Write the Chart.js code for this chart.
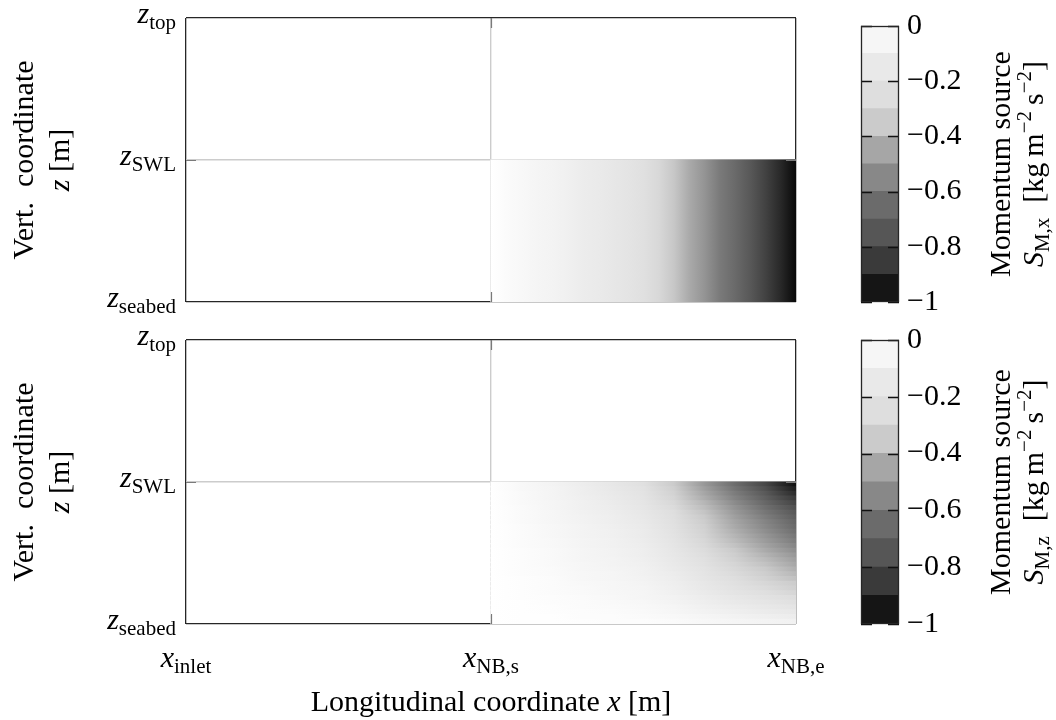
<!DOCTYPE html>
<html><head><meta charset="utf-8">
<script src="https://cdn.jsdelivr.net/npm/chart.js@4/dist/chart.umd.min.js"></script>
<style>
html,body{margin:0;padding:0;background:#fff;}
#wrap{position:relative;width:1056px;height:720px;overflow:hidden;background:#fff;}
#wrap canvas{position:absolute;left:0;top:0;}
</style></head><body>
<div id="wrap">
<canvas id="hx" width="1056" height="720" style="width:1056px;height:720px"></canvas>
<canvas id="hz" width="1056" height="720" style="width:1056px;height:720px"></canvas>
<canvas id="cbx" width="1056" height="720" style="width:1056px;height:720px"></canvas>
<canvas id="cbz" width="1056" height="720" style="width:1056px;height:720px"></canvas>
</div>
<script>
// ---------------- data ----------------
// axis tick positions (data units) and their labels [symbol, subscript]
const xTickValues = [0, 1, 2];
const xTickLabels = [['x', 'inlet'], ['x', 'NB,s'], ['x', 'NB,e']];
const zTickValues = [0, 1, 2];
const zTickLabels = [['z', 'seabed'], ['z', 'SWL'], ['z', 'top']];
const zSWL = 1;

// colorbar
const colorbarTicks = [0, -0.2, -0.4, -0.6, -0.8, -1];
const colorbarEdges = [-1, -0.9, -0.8, -0.7, -0.6, -0.5, -0.4, -0.3, -0.2, -0.1, 0];
const colorbarBandColors = ['#151515', '#3a3a3a', '#565656', '#6b6b6b', '#888888', '#a6a6a6', '#cbcbcb', '#dedede', '#e9e9e9', '#f6f6f6'];

// continuous colormap used for the fields
const cmapValues = [0, -0.05, -0.15, -0.25, -0.35, -0.45, -0.55, -0.65, -0.75, -0.85, -0.95, -1];
const cmapGrays  = [255, 246, 233, 222, 203, 166, 136, 108, 86, 58, 22, 5];

// S_M,x : depends on x only (between x_NB,s and x_NB,e, below SWL)
const sxStops  = [1.00, 1.05, 1.10, 1.15, 1.20, 1.25, 1.30, 1.35, 1.40, 1.45, 1.50, 1.55, 1.60, 1.65, 1.70, 1.75, 1.80, 1.85, 1.90, 1.95, 2.00];
const sxValues = [0, -0.02, -0.04, -0.055, -0.075, -0.10, -0.125, -0.145, -0.17, -0.20, -0.235, -0.28, -0.36, -0.44, -0.51, -0.60, -0.66, -0.74, -0.82, -0.90, -0.99];

// S_M,z : rows from SWL (top) down to seabed, columns at szStops
const szStops = [1.0, 1.1, 1.2, 1.3, 1.4, 1.5, 1.6, 1.7, 1.8, 1.9, 2.0];
const szValues = [
  [0, -0.039, -0.073, -0.121, -0.165, -0.228, -0.349, -0.497, -0.647, -0.804, -0.970],
  [0, -0.037, -0.069, -0.115, -0.156, -0.216, -0.331, -0.474, -0.620, -0.771, -0.931],
  [0, -0.035, -0.065, -0.109, -0.148, -0.204, -0.313, -0.451, -0.594, -0.738, -0.891],
  [0, -0.033, -0.062, -0.104, -0.141, -0.195, -0.299, -0.431, -0.568, -0.705, -0.851],
  [0, -0.031, -0.059, -0.098, -0.133, -0.183, -0.281, -0.408, -0.541, -0.672, -0.812],
  [0, -0.030, -0.056, -0.093, -0.126, -0.174, -0.266, -0.388, -0.515, -0.640, -0.772],
  [0, -0.028, -0.053, -0.088, -0.119, -0.165, -0.252, -0.370, -0.495, -0.615, -0.743],
  [0, -0.027, -0.050, -0.084, -0.114, -0.157, -0.241, -0.354, -0.475, -0.590, -0.713],
  [0, -0.026, -0.048, -0.080, -0.109, -0.150, -0.230, -0.339, -0.455, -0.566, -0.683],
  [0, -0.024, -0.046, -0.076, -0.104, -0.143, -0.220, -0.326, -0.442, -0.549, -0.663],
  [0, -0.023, -0.044, -0.073, -0.099, -0.137, -0.211, -0.314, -0.426, -0.529, -0.639],
  [0, -0.022, -0.042, -0.070, -0.095, -0.132, -0.202, -0.301, -0.409, -0.508, -0.614],
  [0, -0.021, -0.040, -0.067, -0.091, -0.126, -0.193, -0.288, -0.393, -0.488, -0.589],
  [0, -0.020, -0.038, -0.064, -0.087, -0.120, -0.184, -0.274, -0.373, -0.463, -0.559],
  [0, -0.019, -0.036, -0.061, -0.082, -0.114, -0.175, -0.260, -0.353, -0.439, -0.530],
  [0, -0.018, -0.035, -0.058, -0.078, -0.108, -0.166, -0.246, -0.333, -0.414, -0.500],
  [0, -0.017, -0.033, -0.054, -0.074, -0.102, -0.157, -0.233, -0.317, -0.394, -0.475],
  [0, -0.016, -0.031, -0.051, -0.070, -0.096, -0.148, -0.221, -0.300, -0.373, -0.450],
  [0, -0.015, -0.029, -0.048, -0.065, -0.090, -0.139, -0.208, -0.284, -0.353, -0.426],
  [0, -0.014, -0.027, -0.045, -0.061, -0.085, -0.130, -0.195, -0.267, -0.332, -0.401],
  [0, -0.013, -0.025, -0.042, -0.057, -0.079, -0.121, -0.182, -0.251, -0.312, -0.376],
  [0, -0.012, -0.023, -0.039, -0.053, -0.073, -0.112, -0.168, -0.231, -0.287, -0.347],
  [0, -0.011, -0.021, -0.036, -0.048, -0.067, -0.103, -0.156, -0.215, -0.267, -0.322],
  [0, -0.010, -0.020, -0.033, -0.044, -0.061, -0.094, -0.142, -0.195, -0.242, -0.292],
  [0, -0.009, -0.017, -0.029, -0.039, -0.054, -0.083, -0.125, -0.172, -0.213, -0.257],
  [0, -0.008, -0.015, -0.025, -0.034, -0.047, -0.072, -0.110, -0.152, -0.189, -0.228],
  [0, -0.007, -0.013, -0.021, -0.029, -0.040, -0.061, -0.093, -0.129, -0.160, -0.193],
  [0, -0.006, -0.011, -0.018, -0.024, -0.033, -0.050, -0.077, -0.106, -0.131, -0.158],
  [0, -0.004, -0.008, -0.014, -0.019, -0.026, -0.040, -0.060, -0.083, -0.103, -0.124],
  [0, -0.003, -0.006, -0.010, -0.014, -0.019, -0.029, -0.043, -0.059, -0.074, -0.089]
];

// ---------------- styling ----------------
const FONT = '"Liberation Serif","DejaVu Serif",serif';
const FS = 30;
const BORDER = '#262626';
const GRIDC = '#cccccc';

function grayCss(g) { g = Math.max(0, Math.min(255, Math.round(g))); return 'rgb(' + g + ',' + g + ',' + g + ')'; }
function cmap(v) {
  if (v >= cmapValues[0]) return grayCss(cmapGrays[0]);
  for (let i = 0; i < cmapValues.length - 1; i++) {
    const a = cmapValues[i], b = cmapValues[i + 1];
    if (v <= a && v >= b) {
      const t = (a - v) / (a - b);
      return grayCss(cmapGrays[i] + t * (cmapGrays[i + 1] - cmapGrays[i]));
    }
  }
  return grayCss(cmapGrays[cmapGrays.length - 1]);
}

function rowGradient(chart, stops, vals) {
  const area = chart.chartArea;
  const sx = chart.scales.x;
  if (!area || !sx) return '#ffffff';
  const p0 = sx.getPixelForValue(stops[0]);
  const p1 = sx.getPixelForValue(stops[stops.length - 1]);
  const g = chart.ctx.createLinearGradient(p0, 0, p1, 0);
  for (let i = 0; i < stops.length; i++) {
    g.addColorStop((sx.getPixelForValue(stops[i]) - p0) / (p1 - p0), cmap(vals[i]));
  }
  return g;
}

// rich text: parts [{t, it, sub, sup}]
function drawRich(ctx, parts, x, y, align, rot, size) {
  size = size || FS;
  ctx.save();
  ctx.translate(x, y);
  if (rot) ctx.rotate(rot);
  ctx.textBaseline = 'alphabetic';
  ctx.textAlign = 'left';
  ctx.fillStyle = '#000';
  let total = 0;
  const items = parts.map(p => {
    const sz = (p.sub || p.sup) ? size * 0.7 : size;
    const font = (p.it ? 'italic ' : '') + sz + 'px ' + FONT;
    ctx.font = font;
    const w = ctx.measureText(p.t).width;
    total += w;
    return { t: p.t, font, w, dy: p.sub ? size * 0.2 : (p.sup ? -size * 0.4 : 0) };
  });
  let cx = align === 'center' ? -total / 2 : (align === 'right' ? -total : 0);
  for (const it of items) {
    ctx.font = it.font;
    ctx.fillText(it.t, cx, it.dy);
    cx += it.w;
  }
  ctx.restore();
}

function fixedTicks(values) {
  return s => { s.ticks = values.map(v => ({ value: v })); };
}

const isEdge = c => !(c.tick && c.tick.value !== 0 && c.tick.value !== 2);
const edgeGridColor = c => isEdge(c) ? BORDER : GRIDC;
const edgeGridWidth = c => isEdge(c) ? 1.3 : 1.4;

function heatmapLabelsPlugin(isBottom) {
  return {
    id: 'labels',
    afterDraw(chart) {
      const ctx = chart.ctx;
      const a = chart.chartArea;
      const sx = chart.scales.x, sy = chart.scales.y;
      // small inner tick marks at interior ticks
      ctx.save();
      ctx.strokeStyle = '#7a7a7a';
      ctx.lineWidth = 1.2;
      for (const v of xTickValues) {
        if (v === xTickValues[0] || v === xTickValues[xTickValues.length - 1]) continue;
        const px = Math.round(sx.getPixelForValue(v)) + 0.5;
        ctx.beginPath(); ctx.moveTo(px, a.bottom); ctx.lineTo(px, a.bottom - 10);
        ctx.moveTo(px, a.top); ctx.lineTo(px, a.top + 10); ctx.stroke();
      }
      for (const v of zTickValues) {
        if (v === zTickValues[0] || v === zTickValues[zTickValues.length - 1]) continue;
        const py = Math.round(sy.getPixelForValue(v)) + 0.5;
        ctx.beginPath(); ctx.moveTo(a.left, py); ctx.lineTo(a.left + 10, py);
        ctx.moveTo(a.right, py); ctx.lineTo(a.right - 10, py); ctx.stroke();
      }
      ctx.restore();
      // y tick labels
      zTickValues.forEach((v, i) => {
        const py = sy.getPixelForValue(v);
        drawRich(ctx, [{ t: zTickLabels[i][0], it: true }, { t: zTickLabels[i][1], sub: true }], a.left - 10, py + 5, 'right');
      });
      // y axis title
      const yc = (a.top + a.bottom) / 2;
      drawRich(ctx, [{ t: 'Vert.\u2002coordinate' }], 33, yc, 'center', -Math.PI / 2);
      drawRich(ctx, [{ t: 'z', it: true }, { t: ' [m]' }], 69, yc, 'center', -Math.PI / 2);
      if (isBottom) {
        xTickValues.forEach((v, i) => {
          const px = sx.getPixelForValue(v);
          drawRich(ctx, [{ t: xTickLabels[i][0], it: true }, { t: xTickLabels[i][1], sub: true }], px, a.bottom + 43, 'center');
        });
        drawRich(ctx, [{ t: 'Longitudinal coordinate ' }, { t: 'x', it: true }, { t: ' [m]' }], (a.left + a.right) / 2, a.bottom + 87, 'center');
      }
    }
  };
}

function makeHeatmap(id, top, rows, stops, isBottom) {
  const n = rows.length;
  const rowH = zSWL / n;
  const data = rows.map((vals, i) => ({ x: [stops[0], stops[stops.length - 1]], y: zSWL - (i + 0.5) * rowH }));
  return new Chart(document.getElementById(id), {
    type: 'bar',
    data: {
      datasets: [{
        data: data,
        backgroundColor: c => rowGradient(c.chart, stops, rows[c.dataIndex] || rows[0]),
        borderWidth: 0,
        grouped: false,
        categoryPercentage: 1,
        barPercentage: 1,
        inflateAmount: 0.6
      }]
    },
    options: {
      indexAxis: 'y',
      responsive: false,
      animation: false,
      devicePixelRatio: 1,
      layout: { padding: { left: 186, right: 1056 - 796, top: top, bottom: 720 - top - 284 } },
      plugins: { legend: { display: false }, tooltip: { enabled: false } },
      scales: {
        x: {
          type: 'linear', min: xTickValues[0], max: xTickValues[xTickValues.length - 1],
          offset: false,
          afterBuildTicks: fixedTicks(xTickValues),
          ticks: { display: false },
          grid: { drawTicks: false, offset: false, color: edgeGridColor, lineWidth: edgeGridWidth },
          border: { display: false },
          z: 1
        },
        y: {
          type: 'linear', min: zTickValues[0], max: zTickValues[zTickValues.length - 1],
          offset: false,
          afterBuildTicks: fixedTicks(zTickValues),
          ticks: { display: false },
          grid: { drawTicks: false, offset: false, color: edgeGridColor, lineWidth: edgeGridWidth },
          border: { display: false },
          z: 1
        }
      }
    },
    plugins: [heatmapLabelsPlugin(isBottom)]
  });
}

function makeColorbar(id, top, subLabel) {
  const datasets = colorbarBandColors.map((col, i) => ({
    data: [[colorbarEdges[i], colorbarEdges[i + 1]]],
    backgroundColor: col,
    borderWidth: 0,
    grouped: false,
    categoryPercentage: 1,
    barPercentage: 1,
    inflateAmount: 0.5
  }));
  return new Chart(document.getElementById(id), {
    type: 'bar',
    data: { labels: ['S'], datasets },
    options: {
      responsive: false,
      animation: false,
      devicePixelRatio: 1,
      layout: { padding: { left: 861, right: 1056 - 899 - 150, top: top, bottom: 720 - top - 284 } },
      plugins: { legend: { display: false }, tooltip: { enabled: false } },
      scales: {
        x: { display: false },
        y: {
          type: 'linear', position: 'right', min: -1, max: 0,
          afterBuildTicks: fixedTicks(colorbarTicks),
          afterFit: s => { s.width = 150; },
          ticks: {
            padding: 8, color: '#000', font: { family: FONT, size: FS },
            callback: v => (v === 0 ? '0' : '\u2212' + String(Math.abs(v)))
          },
          grid: { display: false, drawTicks: false },
          border: { display: false }
        }
      }
    },
    plugins: [{
      id: 'cbdeco',
      afterDraw(chart) {
        const ctx = chart.ctx, a = chart.chartArea, sy = chart.scales.y;
        ctx.save();
        ctx.strokeStyle = '#111';
        ctx.lineWidth = 1.3;
        for (const v of colorbarTicks) {
          const py = Math.round(sy.getPixelForValue(v)) + 0.5;
          ctx.beginPath();
          ctx.moveTo(a.left, py); ctx.lineTo(a.left + 11, py);
          ctx.moveTo(a.right, py); ctx.lineTo(a.right - 11, py);
          ctx.stroke();
        }
        ctx.strokeStyle = BORDER;
        ctx.strokeRect(Math.round(a.left) + 0.5, Math.round(a.top) + 0.5, Math.round(a.right - a.left) - 1, Math.round(a.bottom - a.top) - 1);
        ctx.restore();
        const yc = (a.top + a.bottom) / 2;
        drawRich(ctx, [{ t: 'Momentum source' }], 1010, yc, 'center', -Math.PI / 2);
        drawRich(ctx, [{ t: 'S', it: true }, { t: subLabel, sub: true }, { t: '\u2002[kg\u2009m' }, { t: '\u22122', sup: true }, { t: '\u2009s' }, { t: '\u22122', sup: true }, { t: ']' }], 1043, yc, 'center', -Math.PI / 2);
      }
    }]
  });
}

makeHeatmap('hx', 18, [sxValues], sxStops, false);
makeHeatmap('hz', 340, szValues, szStops, true);
makeColorbar('cbx', 18, 'M,x');
makeColorbar('cbz', 340, 'M,z');
</script>
</body></html>
